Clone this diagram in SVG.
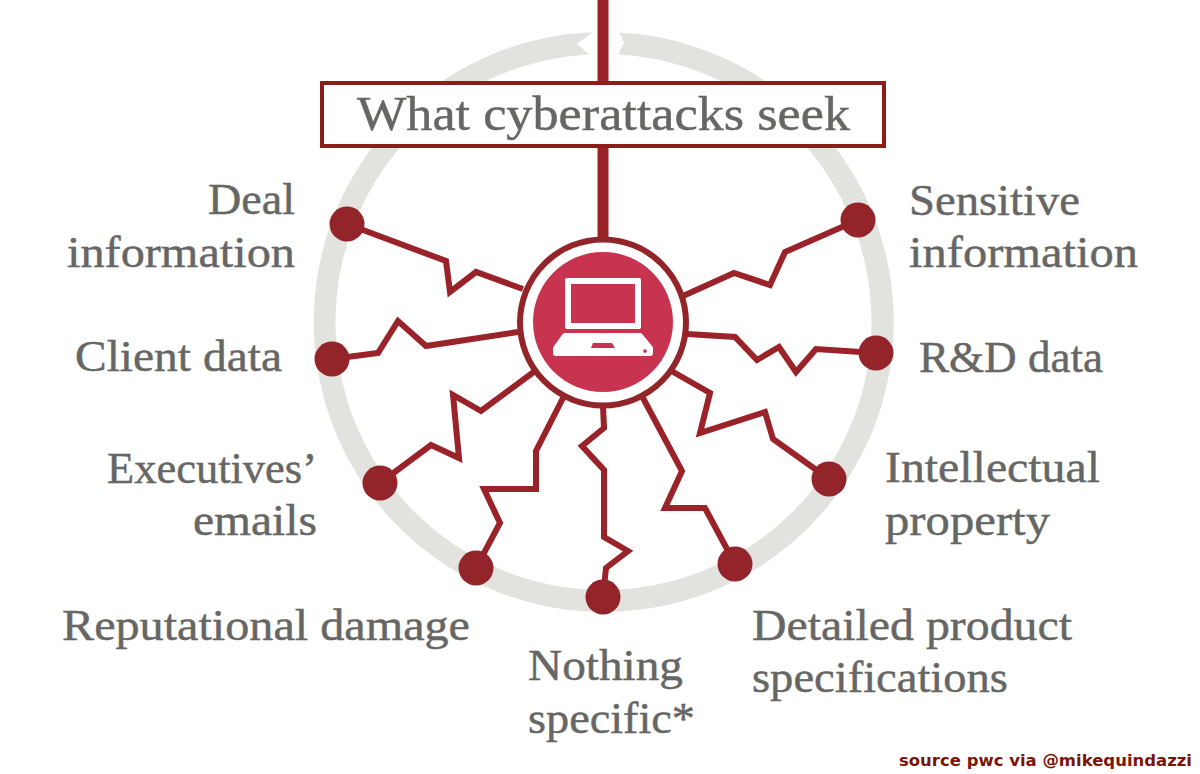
<svg xmlns="http://www.w3.org/2000/svg" width="1200" height="774" viewBox="0 0 1200 774">
<style>
.t{font-family:"Liberation Serif","DejaVu Serif",serif;font-size:45px;fill:#666664;stroke:#666664;stroke-width:.45}
.c{fill:none;stroke:#9a2229;stroke-width:6;stroke-linejoin:miter}
.n{fill:#93242a}
</style>
<rect width="1200" height="774" fill="#fff"/>
<g id="ring"><path d="M593 32.200A290 290 0 1 0 619 32.400L624 43L618 54.400A268 268 0 1 1 589 54.400L577 44Z" fill="#e2e3df"/></g>
<g id="connectors">
<path class="c" d="M347 224L446 261L450 292L476 272L523 289"/>
<path class="c" d="M332 359L378 353L398 321L426 346L518 332"/>
<path class="c" d="M380 483L431 445L459 458L453 395L481 411L535 371"/>
<path class="c" d="M476 568L500 523L484 489L536 489L536 451L563 398"/>
<path class="c" d="M603 597L606 568L628 551L604 537L604 470L582 446L604 428L603 406"/>
<path class="c" d="M735 564L705 508L665 508L682 471L643 398"/>
<path class="c" d="M829 479L773 439L765 412L700 433L710 393L668 369"/>
<path class="c" d="M858 220L785 252L770 285L734 273L683 296"/>
<path class="c" d="M876 353L816 349L796 372L779 347L757 360L735 337L687 334"/>
<path d="M603 0V240" fill="none" stroke="#9a2229" stroke-width="11"/>
</g>
<g id="hub">
<circle cx="603" cy="322.500" r="83" fill="#fff" stroke="#93242a" stroke-width="6"/>
<circle cx="603" cy="322" r="70" fill="#c8344f"/>
<path fill="#fff" fill-rule="evenodd" d="M567 278H639Q641 278 641 280V327Q641 329 639 329H567Q565 329 565 327V280Q565 278 567 278ZM571 284V323H635V284Z"/>
<path fill="#fff" fill-rule="evenodd" d="M565 333H640Q642 333 643 335L652 346Q653 347 653 349V353Q653 356 650 356H556Q553 356 553 353V349Q553 347 554 346L562 335Q563 333 565 333ZM593 343L591 348H615L612 343ZM645 349.200a1.800 1.800 0 1 0 .01 0Z"/>
</g>
<g id="title">
<rect x="322" y="83" width="562" height="63" fill="#fff" stroke="#8c1d18" stroke-width="4"/>
<text class="t" x="357" y="130" textLength="493" lengthAdjust="spacingAndGlyphs" style="font-size:48px">What cyberattacks seek</text>
</g>
<g id="node-deal"><circle class="n" cx="347" cy="224" r="17.500"/><text class="t" x="208" y="214" textLength="87" lengthAdjust="spacingAndGlyphs">Deal</text><text class="t" x="67" y="267" textLength="228" lengthAdjust="spacingAndGlyphs">information</text></g>
<g id="node-client"><circle class="n" cx="332" cy="359" r="17.500"/><text class="t" x="75" y="371" textLength="207" lengthAdjust="spacingAndGlyphs">Client data</text></g>
<g id="node-exec"><circle class="n" cx="380" cy="483" r="17.500"/><text class="t" x="107" y="483" textLength="210" lengthAdjust="spacingAndGlyphs">Executives’</text><text class="t" x="193" y="535" textLength="124" lengthAdjust="spacingAndGlyphs">emails</text></g>
<g id="node-rep"><circle class="n" cx="476" cy="568" r="17.500"/><text class="t" x="62" y="640" textLength="408" lengthAdjust="spacingAndGlyphs">Reputational damage</text></g>
<g id="node-nothing"><circle class="n" cx="603" cy="597" r="17.500"/><text class="t" x="528" y="680" textLength="155" lengthAdjust="spacingAndGlyphs">Nothing</text><text class="t" x="528" y="733" textLength="167" lengthAdjust="spacingAndGlyphs">specific*</text></g>
<g id="node-product"><circle class="n" cx="735" cy="564" r="17.500"/><text class="t" x="752" y="640" textLength="320" lengthAdjust="spacingAndGlyphs">Detailed product</text><text class="t" x="752" y="692" textLength="256" lengthAdjust="spacingAndGlyphs">specifications</text></g>
<g id="node-ip"><circle class="n" cx="829" cy="479" r="17.500"/><text class="t" x="885" y="482" textLength="215" lengthAdjust="spacingAndGlyphs">Intellectual</text><text class="t" x="885" y="535" textLength="165" lengthAdjust="spacingAndGlyphs">property</text></g>
<g id="node-rd"><circle class="n" cx="876" cy="353" r="17.500"/><text class="t" x="919" y="372" textLength="184" lengthAdjust="spacingAndGlyphs">R&amp;D data</text></g>
<g id="node-sensitive"><circle class="n" cx="858" cy="220" r="17.500"/><text class="t" x="909" y="215" textLength="171" lengthAdjust="spacingAndGlyphs">Sensitive</text><text class="t" x="909" y="267" textLength="229" lengthAdjust="spacingAndGlyphs">information</text></g>
<text x="899" y="766" textLength="293" lengthAdjust="spacingAndGlyphs" style="font-family:'DejaVu Sans',sans-serif;font-weight:700;font-size:15.500px;fill:#7a1408">source pwc via @mikequindazzi</text>
</svg>
